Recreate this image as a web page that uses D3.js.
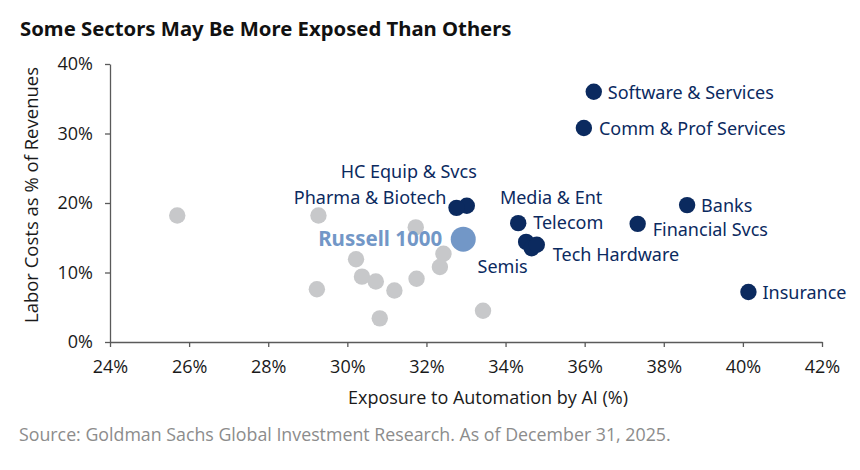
<!DOCTYPE html>
<html>
<head>
<meta charset="utf-8">
<script src="https://cdn.jsdelivr.net/npm/d3@7"></script>
<style>
  body { margin: 0; background: #fff; }
  svg { display: block; }
</style>
</head>
<body>
<script>
// sectors that get a name label
var sectorNames = ['Software & Services', 'Comm & Prof Services', 'HC Equip & Svcs', 'Pharma & Biotech',
  'Media & Ent', 'Telecom', 'Semis', 'Tech Hardware', 'Banks', 'Financial Svcs', 'Insurance'];
var sectorX = [36.23, 35.98, 33.02, 32.76, 34.52, 34.32, 34.66, 34.79, 38.59, 37.34, 40.14];
var sectorY = [36.0, 30.8, 19.6, 19.3, 14.4, 17.1, 13.5, 14.0, 19.7, 17.0, 7.2];

// unlabelled sectors (gray)
var otherX = [25.70, 29.27, 31.73, 32.43, 32.34, 30.22, 30.37, 30.72, 31.19, 31.75, 29.23, 30.82, 33.43];
var otherY = [18.2, 18.2, 16.5, 12.7, 10.8, 11.9, 9.4, 8.7, 7.4, 9.1, 7.6, 3.4, 4.5];

var benchName = 'Russell 1000';
var benchX = 32.93, benchY = 14.8;

var xTicks = [24, 26, 28, 30, 32, 34, 36, 38, 40, 42];
var yTicks = [0, 10, 20, 30, 40];

// label placement (pixels from the dot)
var labelPos = {
  'Software & Services': [14, 7, 'start'],
  'Comm & Prof Services': [15, 7, 'start'],
  'HC Equip & Svcs': [10, -28, 'end'],
  'Pharma & Biotech': [-10, -4, 'end'],
  'Media & Ent': [25, -38, 'middle'],
  'Telecom': [15, 6, 'start'],
  'Semis': [-29, 25, 'middle'],
  'Tech Hardware': [16, 16, 'start'],
  'Banks': [14, 7, 'start'],
  'Financial Svcs': [15, 12, 'start'],
  'Insurance': [14, 7, 'start']
};

var navy = '#0b2a5f', light = '#7297c7', gray = '#c7c8ca';
var W = 860, H = 470;
var margin = {top: 64, right: 38, bottom: 128, left: 110},
    width = W - margin.left - margin.right,
    height = H - margin.top - margin.bottom;

var svg = d3.select('body').append('svg')
    .attr('width', W)
    .attr('height', H)
    .style('font-family', '"Open Sans", "Noto Sans", sans-serif');

svg.append('text')
  .attr('x', 20).attr('y', 36)
  .attr('font-family', '"Noto Sans", sans-serif')
  .attr('font-weight', 700)
  .attr('font-size', 20.3)
  .attr('fill', '#111')
  .text('Some Sectors May Be More Exposed Than Others');

var g = svg.append('g')
  .attr('transform', 'translate(' + margin.left + ',' + margin.top + ')');

var x = d3.scaleLinear().domain([24, 42]).range([0, width]);
var y = d3.scaleLinear().domain([0, 40]).range([height, 0]);

var xAxis = g.append('g')
  .attr('transform', 'translate(0,' + height + ')')
  .call(d3.axisBottom(x).tickValues(xTicks).tickSize(5).tickSizeOuter(0)
    .tickFormat(function(d){ return d + '%'; }));
var yAxis = g.append('g')
  .call(d3.axisLeft(y).tickValues(yTicks).tickSize(5).tickSizeOuter(0)
    .tickFormat(function(d){ return d + '%'; }));

[xAxis, yAxis].forEach(function(a){
  a.select('.domain').attr('stroke', '#5a5a5a').attr('stroke-width', 1.3);
  a.selectAll('.tick line').attr('stroke', '#5a5a5a').attr('stroke-width', 1.3);
  a.selectAll('.tick text').attr('font-size', 18).attr('fill', '#1a1a1a')
    .attr('font-family', '"Open Sans", sans-serif');
});
xAxis.selectAll('.tick text').attr('y', 31).attr('dy', 0);
yAxis.selectAll('.tick text').attr('x', -17);

g.append('text')
  .attr('x', 378).attr('y', 340)
  .attr('text-anchor', 'middle')
  .attr('font-size', 18).attr('fill', '#1a1a1a')
  .text('Exposure to Automation by AI (%)');

g.append('text')
  .attr('transform', 'translate(' + (-72) + ',' + (height / 2 - 8) + ') rotate(-90)')
  .attr('text-anchor', 'middle')
  .attr('font-size', 18.5).attr('fill', '#1a1a1a')
  .text('Labor Costs as % of Revenues');

svg.append('text')
  .attr('x', 19).attr('y', 441)
  .attr('font-size', 17.8).attr('fill', '#8c8c8c')
  .text('Source: Goldman Sachs Global Investment Research. As of December 31, 2025.');

// gray dots
g.selectAll('circle.other')
  .data(otherX)
  .enter().append('circle')
    .attr('class', 'other')
    .attr('cx', function(d){ return x(d); })
    .attr('cy', function(d,i){ return y(otherY[i]); })
    .attr('r', 8.2)
    .attr('fill', gray);

// benchmark
g.append('circle')
  .attr('cx', x(benchX)).attr('cy', y(benchY))
  .attr('r', 12.5).attr('fill', light);
g.append('text')
  .attr('x', x(benchX) - 21).attr('y', y(benchY) + 7)
  .attr('text-anchor', 'end')
  .attr('font-family', '"Noto Sans", sans-serif')
  .attr('font-weight', 700).attr('font-size', 20.5)
  .attr('fill', light)
  .text(benchName);

// labelled sectors
g.selectAll('circle.sector')
  .data(sectorNames)
  .enter().append('circle')
    .attr('class', 'sector')
    .attr('cx', function(d,i){ return x(sectorX[i]); })
    .attr('cy', function(d,i){ return y(sectorY[i]); })
    .attr('r', 8.2)
    .attr('fill', navy);

g.selectAll('text.lbl')
  .data(sectorNames)
  .enter().append('text')
    .attr('class', 'lbl')
    .attr('x', function(d,i){ return x(sectorX[i]) + labelPos[d][0]; })
    .attr('y', function(d,i){ return y(sectorY[i]) + labelPos[d][1]; })
    .attr('text-anchor', function(d){ return labelPos[d][2]; })
    .attr('font-family', '"Noto Sans", sans-serif')
    .attr('font-size', 18)
    .attr('fill', navy)
    .text(function(d){ return d; });
</script>
</body>
</html>
